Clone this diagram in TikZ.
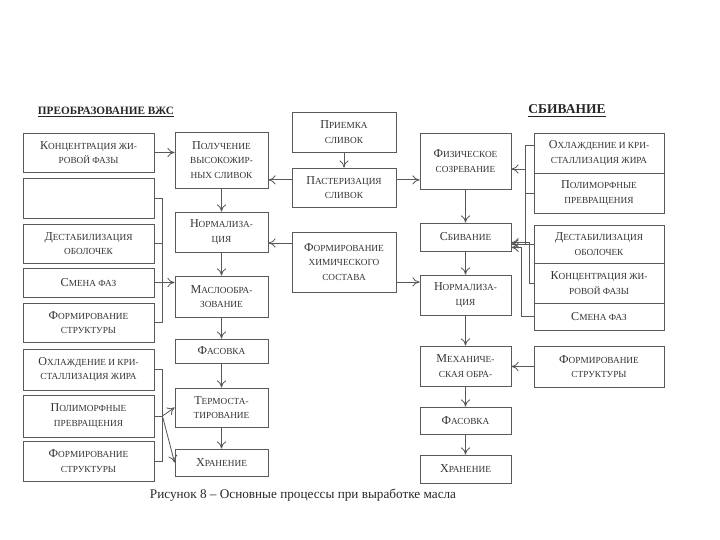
\documentclass[tikz,border=0pt]{standalone}
\usepackage{fontspec}
\setmainfont{Liberation Serif}
\usetikzlibrary{arrows.meta}
% fake small caps: small upper case letters, \Up for a full capital
\newcommand\Up[1]{{\fontsize{8.6}{10.5}\selectfont #1}}
\begin{document}
\begin{tikzpicture}[x=0.25mm, y=-0.25mm, >={To[length=1.8mm,width=2.3mm]},
    box/.style={draw=black!65, line width=0.6pt, align=center, text=black!80, inner sep=1pt,
      font=\fontsize{6.6}{10.5}\selectfont},
    conn/.style={draw=black!65, line width=0.6pt},
    title/.style={font=\fontsize{8}{10}\bfseries, text=black!85}]
  \useasboundingbox (0,0) rectangle (720,540);
  % titles
  \node[title] (tl) at (106,112) {\underline{ПРЕОБРАЗОВАНИЕ ВЖС}};
  \node[title, font=\fontsize{9.6}{11}\bfseries] (tr) at (567,111) {\underline{СБИВАНИЕ}};
  % left column
  \node[box, minimum width=32.75mm, minimum height=9.75mm] (L1) at (88.5,152.5) {\Up{К}ОНЦЕНТРАЦИЯ ЖИ-\\РОВОЙ ФАЗЫ};
  \node[box, minimum width=32.75mm, minimum height=10mm] (L2) at (88.5,198) {};
  \node[box, minimum width=32.75mm, minimum height=9.75mm] (L3) at (88.5,243.5) {\Up{Д}ЕСТАБИЛИЗАЦИЯ\\ОБОЛОЧЕК};
  \node[box, minimum width=32.75mm, minimum height=7.25mm] (L4) at (88.5,282.5) {\Up{С}МЕНА ФАЗ};
  \node[box, minimum width=32.75mm, minimum height=9.75mm] (L5) at (88.5,322.5) {\Up{Ф}ОРМИРОВАНИЕ\\СТРУКТУРЫ};
  \node[box, minimum width=32.75mm, minimum height=10.25mm] (L6) at (88.5,369.5) {\Up{О}ХЛАЖДЕНИЕ И КРИ-\\СТАЛЛИЗАЦИЯ ЖИРА};
  \node[box, minimum width=32.75mm, minimum height=10.5mm] (L7) at (88.5,416) {\Up{П}ОЛИМОРФНЫЕ\\ПРЕВРАЩЕНИЯ};
  \node[box, minimum width=32.75mm, minimum height=10mm] (L8) at (88.5,461) {\Up{Ф}ОРМИРОВАНИЕ\\СТРУКТУРЫ};
  % second column
  \node[box, minimum width=23.25mm, minimum height=14mm] (P1) at (221.5,160) {\Up{П}ОЛУЧЕНИЕ\\ВЫСОКОЖИР-\\НЫХ СЛИВОК};
  \node[box, minimum width=23.25mm, minimum height=10mm] (P2) at (221.5,232) {\Up{Н}ОРМАЛИЗА-\\ЦИЯ};
  \node[box, minimum width=23.25mm, minimum height=10.25mm] (P3) at (221.5,296.5) {\Up{М}АСЛООБРА-\\ЗОВАНИЕ};
  \node[box, minimum width=23.25mm, minimum height=6mm] (P4) at (221.5,351) {\Up{Ф}АСОВКА};
  \node[box, minimum width=23.25mm, minimum height=9.75mm] (P5) at (221.5,407.5) {\Up{Т}ЕРМОСТА-\\ТИРОВАНИЕ};
  \node[box, minimum width=23.25mm, minimum height=6.75mm] (P6) at (221.5,462.5) {\Up{Х}РАНЕНИЕ};
  % middle column
  \node[box, minimum width=26mm, minimum height=10mm] (C1) at (344,132) {\Up{П}РИЕМКА\\СЛИВОК};
  \node[box, minimum width=26mm, minimum height=9.75mm] (C2) at (344,187.5) {\Up{П}АСТЕРИЗАЦИЯ\\СЛИВОК};
  \node[box, minimum width=26mm, minimum height=15mm] (C3) at (344,262) {\Up{Ф}ОРМИРОВАНИЕ\\ХИМИЧЕСКОГО\\СОСТАВА};
  % fourth column
  \node[box, minimum width=22.75mm, minimum height=14mm] (S1) at (465.5,161) {\Up{Ф}ИЗИЧЕСКОЕ\\СОЗРЕВАНИЕ};
  \node[box, minimum width=22.75mm, minimum height=7mm] (S2) at (465.5,237) {\Up{С}БИВАНИЕ};
  \node[box, minimum width=22.75mm, minimum height=10mm] (S3) at (465.5,295) {\Up{Н}ОРМАЛИЗА-\\ЦИЯ};
  \node[box, minimum width=22.75mm, minimum height=10mm] (S4) at (465.5,366) {\Up{М}ЕХАНИЧЕ-\\СКАЯ ОБРА-};
  \node[box, minimum width=22.75mm, minimum height=6.75mm] (S5) at (465.5,420.5) {\Up{Ф}АСОВКА};
  \node[box, minimum width=22.75mm, minimum height=7mm] (S6) at (465.5,469) {\Up{Х}РАНЕНИЕ};
  % right column
  \node[box, minimum width=32.5mm, minimum height=10mm] (R1) at (599,153) {\Up{О}ХЛАЖДЕНИЕ И КРИ-\\СТАЛЛИЗАЦИЯ ЖИРА};
  \node[box, minimum width=32.5mm, minimum height=10mm] (R2) at (599,193) {\Up{П}ОЛИМОРФНЫЕ\\ПРЕВРАЩЕНИЯ};
  \node[box, minimum width=32.5mm, minimum height=9.5mm] (R3) at (599,244) {\Up{Д}ЕСТАБИЛИЗАЦИЯ\\ОБОЛОЧЕК};
  \node[box, minimum width=32.5mm, minimum height=10mm] (R4) at (599,283) {\Up{К}ОНЦЕНТРАЦИЯ ЖИ-\\РОВОЙ ФАЗЫ};
  \node[box, minimum width=32.5mm, minimum height=6.75mm] (R5) at (599,316.5) {\Up{С}МЕНА ФАЗ};
  \node[box, minimum width=32.5mm, minimum height=10.25mm] (R6) at (599,366.5) {\Up{Ф}ОРМИРОВАНИЕ\\СТРУКТУРЫ};
  % caption
  \node[font=\fontsize{9.4}{12}\selectfont, text=black!85] (cap) at (303,495) {Рисунок 8 -- Основные процессы при выработке масла};
  % flows down the columns
  \foreach \a/\b in {P1/P2, P2/P3, P3/P4, P4/P5, P5/P6, C1/C2, S1/S2, S2/S3, S3/S4, S4/S5, S5/S6}
    \draw[conn, ->] (\a) -- (\b);
  % left side
  \draw[conn, ->] (L1.east) -- (L1.east -| P1.west);
  \draw[conn] (L2.east) -- ++(8,0) coordinate (bA) -- (bA |- L5.east) -- (L5.east);
  \draw[conn] (L3.east) -- (L3.east -| bA);
  \draw[conn, ->] (L4.east) -- (L4.east -| P3.west);
  \draw[conn] (L6.east) -- ++(8,0) coordinate (bB) -- (bB |- L8.east) -- (L8.east);
  \draw[conn] (L7.east) -- (L7.east -| bB) coordinate (bC);
  \draw[conn, ->] (bC) -- (P5.west);
  \draw[conn, ->] (bC) -- (P6.west);
  % middle
  \draw[conn, ->] ([yshift=1.9mm]C2.west) -- ([yshift=1.9mm]C2.west -| P1.east);
  \draw[conn, ->] ([yshift=1.9mm]C2.east) -- ([yshift=1.9mm]C2.east -| S1.west);
  \draw[conn, ->] ([yshift=4.75mm]C3.west) -- ([yshift=4.75mm]C3.west -| P2.east);
  \draw[conn, ->] ([yshift=-5mm]C3.east) -- ([yshift=-5mm]C3.east -| S3.west);
  % right side
  \draw[conn] ([yshift=2mm]R1.west) -- ++(-8,0) coordinate (bD) -- (bD |- R3.west) coordinate (bE) -- (R3.west);
  \draw[conn] (R2.west) -- (R2.west -| bD);
  \draw[conn, ->] ([yshift=-2mm]S1.east -| bD) -- ([yshift=-2mm]S1.east);
  \draw[conn, ->] (bE) -- (bE -| S2.east);
  \draw[conn, ->] (R4.west) -- ++(-4,0) |- ([yshift=-1.4mm]S2.east);
  \draw[conn, ->] (R5.west) -- ++(-12,0) |- ([yshift=-2.6mm]S2.east);
  \draw[conn, ->] (R6.west) -- (R6.west -| S4.east);
\end{tikzpicture}
\end{document}
